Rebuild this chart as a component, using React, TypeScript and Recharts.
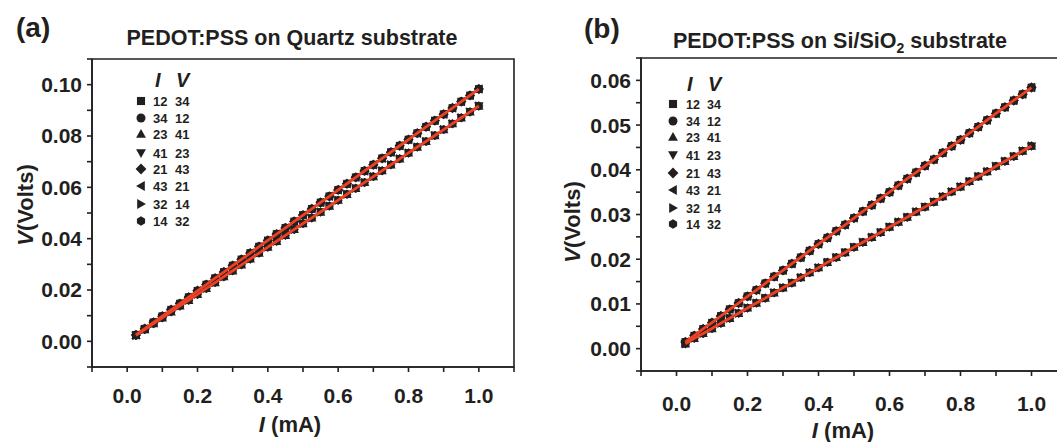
import React from 'react';
import { ComposedChart, Scatter, XAxis, YAxis, ReferenceArea } from 'recharts';

const currentMA = [0.025, 0.05, 0.075, 0.1, 0.125, 0.15, 0.175, 0.2, 0.225, 0.25, 0.275, 0.3, 0.325, 0.35, 0.375, 0.4, 0.425, 0.45, 0.475, 0.5, 0.525, 0.55, 0.575, 0.6, 0.625, 0.65, 0.675, 0.7, 0.725, 0.75, 0.775, 0.8, 0.825, 0.85, 0.875, 0.9, 0.925, 0.95, 0.975, 1.0];

const quartzHigh = [0.0025, 0.0049, 0.0074, 0.0098, 0.0123, 0.0147, 0.0172, 0.0197, 0.0221, 0.0246, 0.0270, 0.0295, 0.0319, 0.0344, 0.0369, 0.0393, 0.0418, 0.0442, 0.0467, 0.0492, 0.0516, 0.0541, 0.0565, 0.0590, 0.0614, 0.0639, 0.0664, 0.0688, 0.0713, 0.0737, 0.0762, 0.0786, 0.0811, 0.0836, 0.0860, 0.0885, 0.0909, 0.0934, 0.0958, 0.0983];
const quartzLow = [0.0023, 0.0046, 0.0069, 0.0092, 0.0115, 0.0138, 0.0160, 0.0183, 0.0206, 0.0229, 0.0252, 0.0275, 0.0298, 0.0321, 0.0344, 0.0367, 0.0390, 0.0413, 0.0436, 0.0459, 0.0481, 0.0504, 0.0527, 0.0550, 0.0573, 0.0596, 0.0619, 0.0642, 0.0665, 0.0688, 0.0711, 0.0734, 0.0757, 0.0779, 0.0802, 0.0825, 0.0848, 0.0871, 0.0894, 0.0917];
const siHigh = [0.0015, 0.0029, 0.0044, 0.0058, 0.0073, 0.0088, 0.0102, 0.0117, 0.0131, 0.0146, 0.0161, 0.0175, 0.0190, 0.0204, 0.0219, 0.0234, 0.0248, 0.0263, 0.0277, 0.0292, 0.0307, 0.0321, 0.0336, 0.0350, 0.0365, 0.0380, 0.0394, 0.0409, 0.0423, 0.0438, 0.0453, 0.0467, 0.0482, 0.0496, 0.0511, 0.0526, 0.0540, 0.0555, 0.0569, 0.0584];
const siLow = [0.0011, 0.0023, 0.0034, 0.0045, 0.0057, 0.0068, 0.0079, 0.0091, 0.0102, 0.0113, 0.0125, 0.0136, 0.0147, 0.0159, 0.0170, 0.0181, 0.0193, 0.0204, 0.0215, 0.0227, 0.0238, 0.0249, 0.0260, 0.0272, 0.0283, 0.0294, 0.0306, 0.0317, 0.0328, 0.0340, 0.0351, 0.0362, 0.0374, 0.0385, 0.0396, 0.0408, 0.0419, 0.0430, 0.0442, 0.0453];

const legendI = ['12', '34', '23', '41', '21', '43', '32', '14'];
const legendV = ['34', '12', '41', '23', '43', '21', '14', '32'];
const legendShapes = ['square', 'circle', 'triUp', 'triDown', 'diamond', 'triLeft', 'triRight', 'hexagon'];
const legendGroup = ['high', 'high', 'low', 'low', 'high', 'high', 'low', 'low'];

const xTicks = [-0.1, 0, 0.1, 0.2, 0.3, 0.4, 0.5, 0.6, 0.7, 0.8, 0.9, 1.0, 1.1];
const xTickLabels = ['', '0.0', '', '0.2', '', '0.4', '', '0.6', '', '0.8', '', '1.0', ''];
const quartzYTicks = [-0.01, 0, 0.01, 0.02, 0.03, 0.04, 0.05, 0.06, 0.07, 0.08, 0.09, 0.10, 0.11];
const quartzYLabels = ['', '0.00', '', '0.02', '', '0.04', '', '0.06', '', '0.08', '', '0.10', ''];
const siYTicks = [-0.005, 0, 0.005, 0.01, 0.015, 0.02, 0.025, 0.03, 0.035, 0.04, 0.045, 0.05, 0.055, 0.06, 0.065];
const siYLabels = ['', '0.00', '', '0.01', '', '0.02', '', '0.03', '', '0.04', '', '0.05', '', '0.06', ''];

const FONT = '"Liberation Sans", Arial, Helvetica, sans-serif';
const INK = '#231f20';
const RED = '#ee4023';

function Marker({ shape, cx, cy, r, fill }: { shape: string; cx: number; cy: number; r: number; fill: string }) {
  if (cx == null || cy == null || isNaN(cx) || isNaN(cy)) return null;
  const pts = (arr: number[][]) => arr.map((p) => `${cx + p[0] * r},${cy + p[1] * r}`).join(' ');
  switch (shape) {
    case 'square':
      return <rect x={cx - r * 0.9} y={cy - r * 0.9} width={r * 1.8} height={r * 1.8} fill={fill} />;
    case 'circle':
      return <circle cx={cx} cy={cy} r={r} fill={fill} />;
    case 'triUp':
      return <polygon points={pts([[0, -1.1], [1.1, 0.85], [-1.1, 0.85]])} fill={fill} />;
    case 'triDown':
      return <polygon points={pts([[0, 1.1], [1.1, -0.85], [-1.1, -0.85]])} fill={fill} />;
    case 'diamond':
      return <polygon points={pts([[0, -1.2], [1.2, 0], [0, 1.2], [-1.2, 0]])} fill={fill} />;
    case 'triLeft':
      return <polygon points={pts([[-1.1, 0], [0.85, -1.1], [0.85, 1.1]])} fill={fill} />;
    case 'triRight':
      return <polygon points={pts([[1.1, 0], [-0.85, -1.1], [-0.85, 1.1]])} fill={fill} />;
    default:
      return <polygon points={pts([[0, -1.05], [0.91, -0.52], [0.91, 0.52], [0, 1.05], [-0.91, 0.52], [-0.91, -0.52]])} fill={fill} />;
  }
}

const axisStyle = { stroke: INK, strokeWidth: 1.6 };
const tickStyle = { fontSize: 21, fontWeight: 'bold' as const, fill: INK, fontFamily: FONT };

function Panel({ high, low, yTicks, yLabels, yDomain, width, margin, xTickMargin }: any) {
  const rows = currentMA.map((x, i) => ({ I: x, high: high[i], low: low[i] }));
  return (
    <ComposedChart width={width} height={442} data={rows} margin={margin}>
      <ReferenceArea x1={-0.1} x2={1.1} y1={yDomain[0]} y2={yDomain[1]} fill="none" stroke={INK} strokeWidth={1.6} ifOverflow="visible" />
      <XAxis
        type="number"
        dataKey="I"
        domain={[-0.1, 1.1]}
        ticks={xTicks}
        interval={0}
        allowDataOverflow
        tickSize={5}
        tickMargin={xTickMargin}
        height={30}
        axisLine={axisStyle}
        tickLine={axisStyle}
        tick={tickStyle}
        tickFormatter={(v: number) => xTickLabels[xTicks.findIndex((t) => Math.abs(t - v) < 1e-9)] ?? ''}
      />
      <YAxis
        type="number"
        domain={yDomain}
        ticks={yTicks}
        interval={0}
        allowDataOverflow
        width={60}
        tickSize={5}
        tickMargin={5}
        axisLine={axisStyle}
        tickLine={axisStyle}
        tick={tickStyle}
        tickFormatter={(v: number) => yLabels[yTicks.findIndex((t: number) => Math.abs(t - v) < 1e-9)] ?? ''}
      />
      {legendShapes.map((shape, k) => (
        <Scatter
          key={shape}
          data={rows}
          dataKey={legendGroup[k]}
          isAnimationActive={false}
          shape={(p: any) => <Marker shape={shape} cx={p.cx} cy={p.cy} r={4.3} fill={INK} />}
        />
      ))}
      <Scatter data={rows} dataKey="high" isAnimationActive={false} line={{ stroke: RED, strokeWidth: 2.8 }} shape={() => <g />} />
      <Scatter data={rows} dataKey="low" isAnimationActive={false} line={{ stroke: RED, strokeWidth: 2.8 }} shape={() => <g />} />
    </ComposedChart>
  );
}

function LegendBlock({ headI, headV, headY, markerX, col1X, col2X, rowYs, fontSize }: any) {
  return (
    <g>
      <text x={headI} y={headY} fontSize={20} fontWeight="bold" fontStyle="italic" fill={INK} fontFamily={FONT}>I</text>
      <text x={headV} y={headY} fontSize={20} fontWeight="bold" fontStyle="italic" fill={INK} fontFamily={FONT}>V</text>
      {legendShapes.map((shape, k) => (
        <g key={shape}>
          <Marker shape={shape} cx={markerX} cy={rowYs[k]} r={4.5} fill={INK} />
          <text x={col1X} y={rowYs[k] + fontSize * 0.36} fontSize={fontSize} fontWeight="bold" fill={INK} fontFamily={FONT}>{legendI[k]}</text>
          <text x={col2X} y={rowYs[k] + fontSize * 0.36} fontSize={fontSize} fontWeight="bold" fill={INK} fontFamily={FONT}>{legendV[k]}</text>
        </g>
      ))}
    </g>
  );
}

export default function App() {
  return (
    <div style={{ position: 'absolute', left: 0, top: 0, width: 1057, height: 442, overflow: 'hidden', background: '#fff', fontFamily: FONT }}>
      <div style={{ position: 'absolute', left: 0, top: 0 }}>
        <Panel high={quartzHigh} low={quartzLow} yTicks={quartzYTicks} yLabels={quartzYLabels} yDomain={[-0.01, 0.11]} width={530} margin={{ top: 59, right: 16, bottom: 45, left: 32 }} xTickMargin={16} />
      </div>
      <div style={{ position: 'absolute', left: 530, top: 0 }}>
        <Panel high={siHigh} low={siLow} yTicks={siYTicks} yLabels={siYLabels} yDomain={[-0.005, 0.065]} width={550} margin={{ top: 58, right: 13, bottom: 41, left: 51 }} xTickMargin={20} />
      </div>
      <svg width={1057} height={442} style={{ position: 'absolute', left: 0, top: 0, pointerEvents: 'none' }}>
        <text x={16} y={37} fontSize={28} fontWeight="bold" fill={INK} fontFamily={FONT}>(a)</text>
        <text x={292} y={45} fontSize={21.5} fontWeight="bold" fill={INK} fontFamily={FONT} textAnchor="middle">PEDOT:PSS on Quartz substrate</text>
        <text x={584} y={38} fontSize={28} fontWeight="bold" fill={INK} fontFamily={FONT}>(b)</text>
        <text x={840} y={48} fontSize={21.5} fontWeight="bold" fill={INK} fontFamily={FONT} textAnchor="middle">
          PEDOT:PSS on Si/SiO<tspan fontSize={14} dy={5}>2</tspan><tspan dy={-5}> substrate</tspan>
        </text>
        <text transform="translate(33,205) rotate(-90)" fontSize={22} fontWeight="bold" fill={INK} fontFamily={FONT} textAnchor="middle">
          <tspan fontStyle="italic">V</tspan>(Volts)
        </text>
        <text transform="translate(580,222) rotate(-90)" fontSize={22} fontWeight="bold" fill={INK} fontFamily={FONT} textAnchor="middle">
          <tspan fontStyle="italic">V</tspan>(Volts)
        </text>
        <text x={290} y={432} fontSize={22} fontWeight="bold" fill={INK} fontFamily={FONT} textAnchor="middle">
          <tspan fontStyle="italic">I</tspan> (mA)
        </text>
        <text x={843} y={438} fontSize={22} fontWeight="bold" fill={INK} fontFamily={FONT} textAnchor="middle">
          <tspan fontStyle="italic">I</tspan> (mA)
        </text>
        <LegendBlock headI={155} headV={176} headY={87} markerX={141} col1X={153} col2X={175} rowYs={[101, 118, 134, 153, 169, 186, 204, 221]} fontSize={13} />
        <LegendBlock headI={687} headV={708} headY={91} markerX={673} col1X={686} col2X={707} rowYs={[104, 121, 137, 155, 173, 190, 208, 224]} fontSize={12.5} />
      </svg>
    </div>
  );
}
